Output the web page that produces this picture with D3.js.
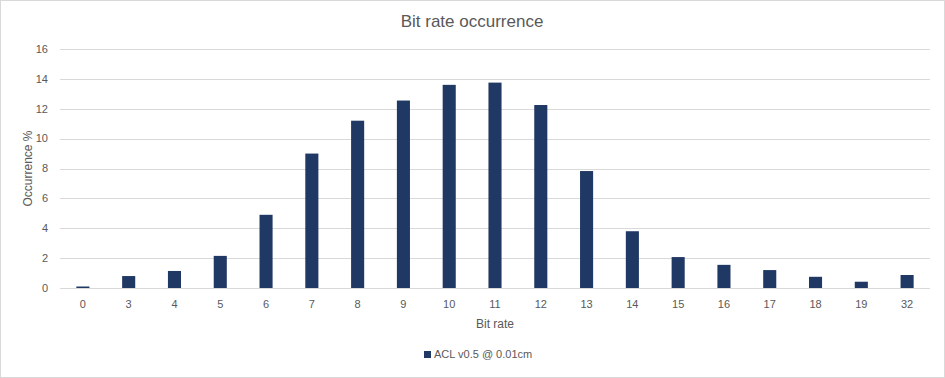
<!DOCTYPE html>
<html><head><meta charset="utf-8">
<script src="https://cdn.jsdelivr.net/npm/d3@7"></script>
<style>body{margin:0;background:#fff}svg{display:block}</style>
</head><body><svg id="c" width="945" height="378"></svg>
<script>
const categories = ["0","3","4","5","6","7","8","9","10","11","12","13","14","15","16","17","18","19","32"];
const values = [0.1,0.8,1.14,2.15,4.9,9.0,11.2,12.55,13.6,13.75,12.25,7.83,3.8,2.07,1.55,1.2,0.75,0.42,0.87];
const yTicks = [0,2,4,6,8,10,12,14,16];
const seriesName = "ACL v0.5 @ 0.01cm";

const svg = d3.select("#c");
const W = 945, H = 378;
const font = "Liberation Sans, Arial, sans-serif";
svg.append("rect").attr("x",0.5).attr("y",0.5).attr("width",W-1).attr("height",H-1)
  .attr("fill","#fff").attr("stroke","#d9d9d9");

const m = {l:60, r:15, t:49, b:90};
const x = d3.scaleBand().domain(categories).range([m.l, W-m.r]).padding(0);
const y = d3.scaleLinear().domain([0,16]).range([H-m.b, m.t]);

const g = svg.append("g");
g.selectAll("line.grid").data(yTicks).join("line")
  .attr("x1",m.l).attr("x2",W-m.r)
  .attr("y1",d=>Math.round(y(d))+0.5).attr("y2",d=>Math.round(y(d))+0.5)
  .attr("stroke","#d9d9d9").attr("stroke-width",1);

const bw = x.bandwidth()/3.5;
g.selectAll("rect.bar").data(values).join("rect")
  .attr("x",(d,i)=>x(categories[i])+x.bandwidth()/2-bw/2)
  .attr("width",bw)
  .attr("y",d=>y(d)).attr("height",d=>y(0)-y(d))
  .attr("fill","#203864");

g.selectAll("text.yt").data(yTicks).join("text")
  .attr("x",m.l-12).attr("y",d=>y(d)).attr("dy","0.35em")
  .attr("text-anchor","end").attr("font-family",font).attr("font-size",11)
  .attr("fill","#595959").text(d=>d);

g.selectAll("text.xt").data(categories).join("text")
  .attr("x",d=>x(d)+x.bandwidth()/2).attr("y",y(0)+20)
  .attr("text-anchor","middle").attr("font-family",font).attr("font-size",11)
  .attr("fill","#595959").text(d=>d);

svg.append("text").attr("x",472).attr("y",27).attr("text-anchor","middle")
  .attr("font-family",font).attr("font-size",17).attr("fill","#595959")
  .text("Bit rate occurrence");

svg.append("text").attr("transform","translate(32,"+((m.t+H-m.b)/2)+") rotate(-90)")
  .attr("text-anchor","middle").attr("font-family",font).attr("font-size",12)
  .attr("fill","#595959").text("Occurrence %");

svg.append("text").attr("x",(m.l+W-m.r)/2).attr("y",328).attr("text-anchor","middle")
  .attr("font-family",font).attr("font-size",12).attr("fill","#595959").text("Bit rate");

const lg = svg.append("g");
lg.append("rect").attr("x",424).attr("y",351).attr("width",7).attr("height",7).attr("fill","#203864");
lg.append("text").attr("x",434).attr("y",358).attr("font-family",font).attr("font-size",11)
  .attr("fill","#595959").text(seriesName);
</script></body></html>
